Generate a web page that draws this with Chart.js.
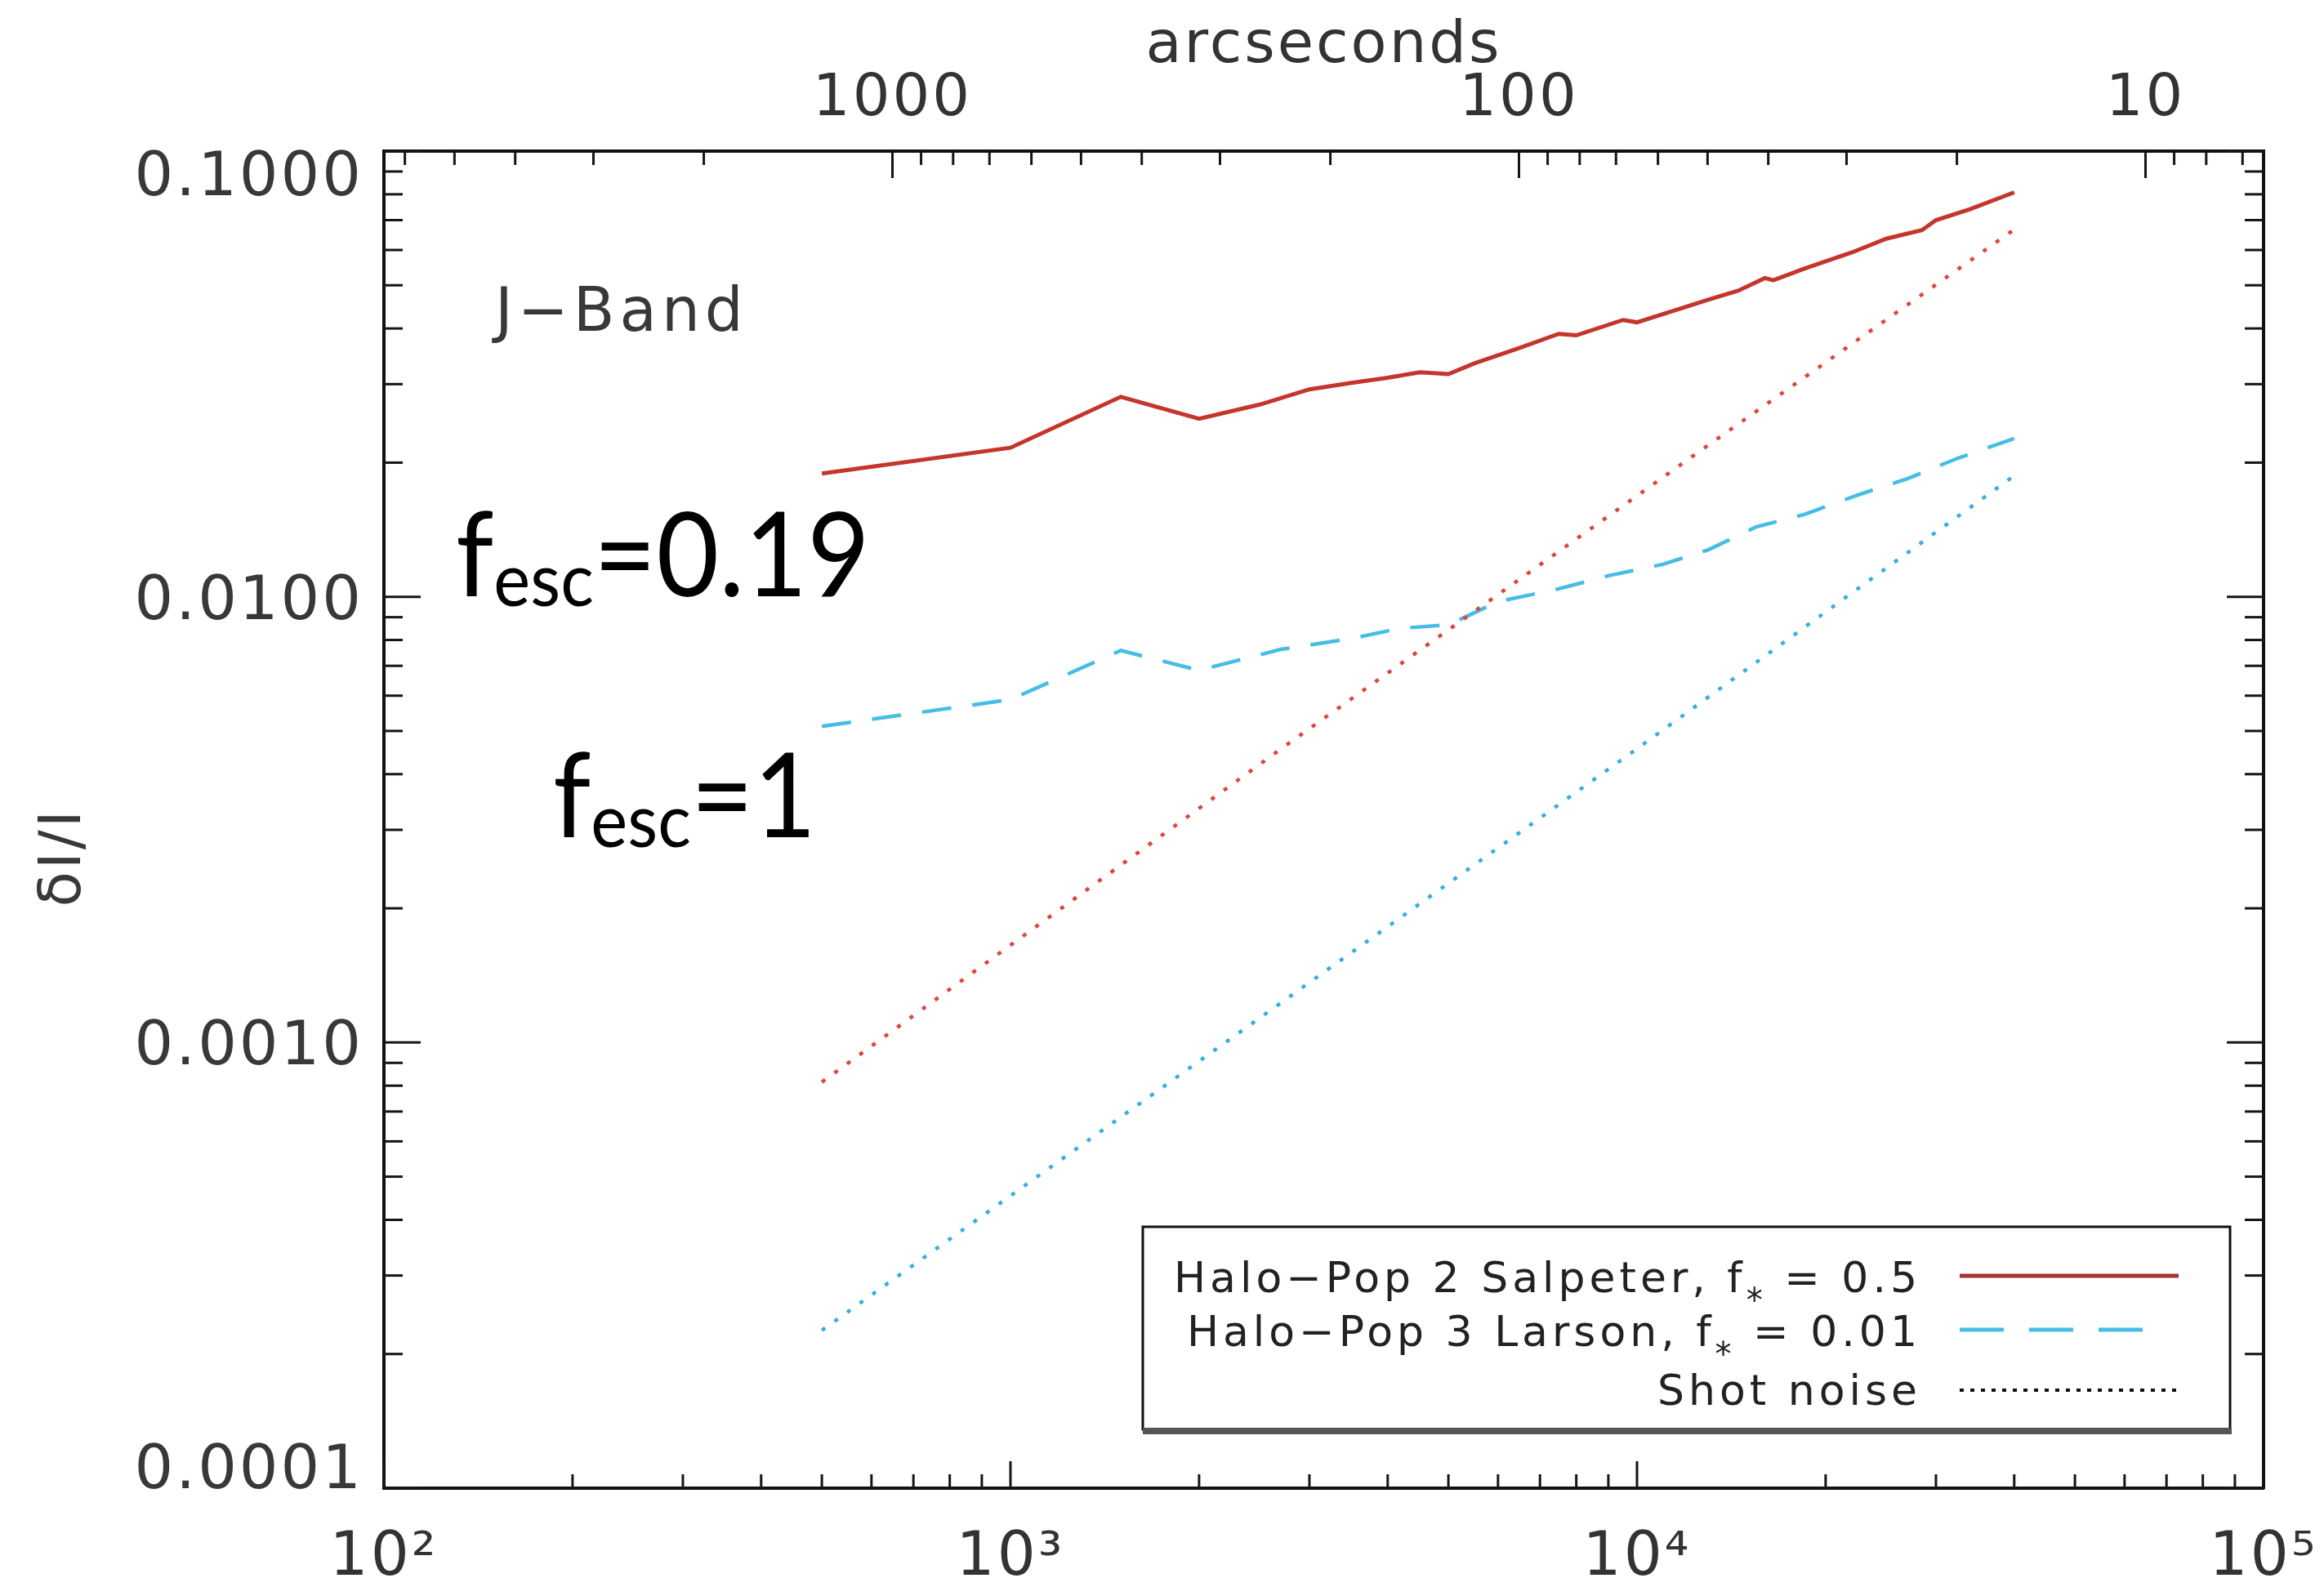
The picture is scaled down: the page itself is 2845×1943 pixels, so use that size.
<!DOCTYPE html>
<html>
<head>
<meta charset="utf-8">
<script src="https://cdn.jsdelivr.net/npm/chart.js@4/dist/chart.umd.min.js"></script>
<style>
html,body{margin:0;padding:0;background:#fff;}
#wrap{width:2845px;height:1943px;position:relative;}
canvas{display:block;}
</style>
</head>
<body>
<div id="wrap"><canvas id="c" width="2845" height="1943"></canvas></div>
<script>
// ---------------- data ----------------
const pop2Ell = [500, 1000, 1500, 2000, 2500, 3000, 3500, 4000, 4500, 5000, 5500, 6500, 7500, 8000, 9500, 10000, 12000, 13000, 14500, 16000, 16500, 18500, 22000, 25000, 28500, 30000, 34000, 40000];
const pop2Val = [0.0189, 0.0216, 0.0281, 0.0251, 0.0270, 0.0292, 0.0302, 0.0310, 0.0319, 0.0316, 0.0334, 0.0362, 0.0389, 0.0386, 0.0418, 0.0413, 0.0448, 0.0464, 0.0486, 0.0519, 0.0513, 0.0545, 0.0592, 0.0636, 0.0665, 0.0700, 0.0741, 0.0808];

const pop3Ell = [500, 1000, 1500, 2000, 2700, 3500, 4200, 5000, 6000, 7500, 9000, 11000, 13000, 15500, 18500, 22500, 27000, 32500, 40000];
const pop3Val = [0.00512, 0.00588, 0.00758, 0.00684, 0.00762, 0.00806, 0.00850, 0.00865, 0.00975, 0.01042, 0.01115, 0.01183, 0.01275, 0.01435, 0.01530, 0.01692, 0.01840, 0.02046, 0.02265];

const shotEll2 = [500, 2680, 13000, 40000];
const shotPop2 = [0.000815, 0.00452, 0.0219, 0.0667];
const shotEll3 = [500, 10000, 21600, 40000];
const shotPop3 = [0.000226, 0.00456, 0.0100, 0.0187];

// tick labels
const xTickValues = [100, 1000, 10000, 100000];
const xTickLabels = ['10\u00B2', '10\u00B3', '10\u2074', '10\u2075'];
const yTickValues = [0.1, 0.01, 0.001, 0.0001];
const yTickLabels = ['0.1000', '0.0100', '0.0010', '0.0001'];
const arcsecMajor = [1000, 100, 10];
const arcsecMinor = [6000, 5000, 4000, 3000, 2000, 900, 800, 700, 600, 500, 400, 300, 200, 90, 80, 70, 60, 50, 40, 30, 20, 9, 8, 7];
const ARCSEC_PI = 648000; // theta[arcsec] = 180*3600 / ell

// text
const seriesLabels = ['Halo\u2212Pop 2 Salpeter, f* = 0.5', 'Halo\u2212Pop 3 Larson, f* = 0.01', 'Shot noise', 'Shot noise'];
const legendParts = [
  ['Halo\u2212Pop 2 Salpeter, f', '*', ' = 0.5'],
  ['Halo\u2212Pop 3 Larson, f', '*', ' = 0.01'],
  ['Shot noise']
];
const bandLabel = 'J\u2212Band';
const yTitle = '\u03B4I/I';
const topTitle = 'arcseconds';
const annot1 = ['f', 'esc', '=0.19'];
const annot2 = ['f', 'esc', '=1'];

// ---------------- helpers ----------------
const pts = (xs, ys) => xs.map((x, i) => ({x: x, y: ys[i]}));
function decadeSteps(min, max) {
  const out = [];
  for (let e = Math.floor(Math.log10(min)) ; e <= Math.ceil(Math.log10(max)); e++) {
    for (let k = 1; k <= 9; k++) {
      const v = k * Math.pow(10, e);
      if (v >= min * 0.999 && v <= max * 1.001) out.push({value: v, major: k === 1});
    }
  }
  return out;
}
function richWidth(ctx, parts) {
  return parts.reduce((s, p) => { ctx.font = p.font; return s + ctx.measureText(p.t).width; }, 0);
}
function drawRich(ctx, parts, x, y, align, sx) {
  sx = sx || 1;
  const total = richWidth(ctx, parts) * sx;
  ctx.save();
  ctx.translate(align === 'right' ? x - total : x, y);
  ctx.scale(sx, 1);
  let cx = 0;
  parts.forEach(p => {
    ctx.font = p.font;
    ctx.fillText(p.t, cx, p.dy || 0);
    cx += ctx.measureText(p.t).width;
  });
  ctx.restore();
}
const noPad = s => { s.paddingLeft = 0; s.paddingRight = 0; s.paddingTop = 0; s.paddingBottom = 0; };

const decor = {
  id: 'decor',
  beforeDraw(chart) {
    chart.ctx.letterSpacing = '3px';
  },
  afterDraw(chart) {
    const ctx = chart.ctx;
    const a = chart.chartArea;
    const sx = chart.scales.x, st = chart.scales.x2, sy = chart.scales.y;
    ctx.save();
    ctx.strokeStyle = '#151515';
    ctx.lineWidth = 3;
    ctx.lineCap = 'butt';
    ctx.setLineDash([]);
    const line = (x1, y1, x2, y2) => { ctx.beginPath(); ctx.moveTo(x1, y1); ctx.lineTo(x2, y2); ctx.stroke(); };
    // bottom ticks (inward)
    decadeSteps(sx.min, sx.max).forEach(t => {
      const x = sx.getPixelForValue(t.value);
      line(x, a.bottom, x, a.bottom - (t.major ? 33 : 17));
    });
    // top ticks (arcseconds)
    arcsecMajor.forEach(s => { const x = st.getPixelForValue(ARCSEC_PI / s); line(x, a.top, x, a.top + 33); });
    arcsecMinor.forEach(s => { const x = st.getPixelForValue(ARCSEC_PI / s); line(x, a.top, x, a.top + 17); });
    // left / right ticks
    decadeSteps(sy.min, sy.max).forEach(t => {
      const y = sy.getPixelForValue(t.value);
      const len = t.major ? 45 : 23;
      line(a.left, y, a.left + len, y);
      line(a.right, y, a.right - len, y);
    });

    // y tick labels (kept inside the axis range, IDL style)
    ctx.fillStyle = '#383838';
    ctx.letterSpacing = '3px';
    ctx.font = '75px "DejaVu Sans"';
    ctx.textAlign = 'right';
    ctx.textBaseline = 'alphabetic';
    yTickValues.forEach((v, i) => {
      let yc = sy.getPixelForValue(v);
      yc = Math.min(Math.max(yc, a.top + 27), a.bottom - 27);
      ctx.fillText(yTickLabels[i], 445, yc + 27);
    });

    // y title
    ctx.save();
    ctx.translate(98, 1050);
    ctx.rotate(-Math.PI / 2);
    ctx.textAlign = 'center';
    ctx.font = '71px "DejaVu Sans"';
    ctx.fillText(yTitle, 0, 0);
    ctx.restore();

    // J-Band label
    ctx.textAlign = 'left';
    ctx.letterSpacing = '6px';
    ctx.font = '74px "DejaVu Sans"';
    ctx.fillText(bandLabel, 606, 405);

    // f_esc annotations
    ctx.letterSpacing = '0px';
    ctx.fillStyle = '#000';
    const big = '143px Lato', sub = '92px Lato';
    const p1 = [{t: annot1[0], font: big}, {t: annot1[1], font: sub, dy: 12}, {t: annot1[2], font: big}];
    const p2 = [{t: annot2[0], font: big}, {t: annot2[1], font: sub, dy: 12}, {t: annot2[2], font: big}];
    const squeeze = 507 / richWidth(ctx, p1);
    drawRich(ctx, p1, 558, 730, 'left', squeeze);
    drawRich(ctx, p2, 677, 1025, 'left', squeeze);

    // legend box
    const L = 1399, T = 1502, R = 2730, B = 1750;
    ctx.fillStyle = '#fff';
    ctx.fillRect(L, T, R - L, B - T);
    ctx.strokeStyle = '#111';
    ctx.lineWidth = 3;
    ctx.strokeRect(L, T, R - L, B - T);
    ctx.strokeStyle = '#555';
    ctx.lineWidth = 8;
    line(L, B + 2, R + 2, B + 2);

    ctx.fillStyle = '#222';
    ctx.letterSpacing = '5px';
    const lf = '52px "DejaVu Sans"', sf = '40px "DejaVu Sans"';
    const baselines = [1582, 1648, 1720];
    legendParts.forEach((parts, i) => {
      const rich = parts.map((t, j) => (parts.length > 1 && j === 1) ? {t: t, font: sf, dy: 24} : {t: t, font: lf});
      drawRich(ctx, rich, 2352, baselines[i], 'right');
    });
    // legend samples
    const ds = chart.data.datasets;
    ctx.lineWidth = 5;
    ctx.strokeStyle = '#a8322d'; ctx.setLineDash([]);
    line(2399, 1562, 2667, 1562);
    ctx.strokeStyle = ds[1].borderColor; ctx.setLineDash([54, 31]);
    line(2399, 1628, 2650, 1628);
    ctx.strokeStyle = '#111'; ctx.lineWidth = 4; ctx.setLineDash([5, 8]);
    line(2399, 1702, 2667, 1702);
    ctx.restore();
  }
};

const ctx = document.getElementById('c').getContext('2d');
new Chart(ctx, {
  type: 'line',
  data: {
    datasets: [
      {label: seriesLabels[2], data: pts(shotEll2, shotPop2), borderColor: '#dc463d', borderWidth: 4.5, borderDash: [5, 14], xAxisID: 'x', yAxisID: 'y'},
      {label: seriesLabels[1], data: pts(pop3Ell, pop3Val), borderColor: '#47bde6', borderWidth: 4.5, borderDash: [36, 26], xAxisID: 'x', yAxisID: 'y'},
      {label: seriesLabels[3], data: pts(shotEll3, shotPop3), borderColor: '#3aaee0', borderWidth: 4.5, borderDash: [5, 14], xAxisID: 'x', yAxisID: 'y'},
      {label: seriesLabels[0], data: pts(pop2Ell, pop2Val), borderColor: '#c4352b', borderWidth: 5, xAxisID: 'x', yAxisID: 'y'}
    ]
  },
  options: {
    responsive: false,
    maintainAspectRatio: false,
    devicePixelRatio: 1,
    animation: false,
    layout: {padding: 0, autoPadding: false},
    elements: {point: {radius: 0, hoverRadius: 0}, line: {tension: 0, fill: false}},
    plugins: {legend: {display: false}, tooltip: {enabled: false}},
    scales: {
      x: {
        type: 'logarithmic', position: 'bottom', min: 100, max: 100000,
        afterBuildTicks: s => { s.ticks = xTickValues.map(v => ({value: v})); },
        afterFit: s => { s.height = 121; noPad(s); },
        ticks: {callback: (v, i) => xTickLabels[i], font: {family: 'DejaVu Sans', size: 74}, color: '#333', padding: 42, maxRotation: 0, autoSkip: false},
        grid: {display: false, drawTicks: false},
        border: {display: true, color: '#111', width: 4}
      },
      x2: {
        type: 'logarithmic', position: 'top', min: 100, max: 100000,
        afterBuildTicks: s => { s.ticks = arcsecMajor.map(a => ({value: ARCSEC_PI / a})); },
        afterFit: s => { s.height = 185; noPad(s); },
        ticks: {callback: (v, i) => String(arcsecMajor[i]), font: {family: 'DejaVu Sans', size: 72}, color: '#333', padding: 20, maxRotation: 0, autoSkip: false},
        title: {display: true, text: topTitle, font: {family: 'DejaVu Sans', size: 72}, color: '#333', padding: {top: 14, bottom: 0}},
        grid: {display: false, drawTicks: false},
        border: {display: true, color: '#111', width: 4}
      },
      y: {
        type: 'logarithmic', position: 'left', min: 0.0001, max: 0.1,
        afterBuildTicks: s => { s.ticks = yTickValues.map(v => ({value: v})); },
        afterFit: s => { s.width = 470; noPad(s); },
        ticks: {display: false},
        grid: {display: false, drawTicks: false},
        border: {display: true, color: '#111', width: 4}
      },
      y2: {
        type: 'logarithmic', position: 'right', min: 0.0001, max: 0.1,
        afterBuildTicks: s => { s.ticks = yTickValues.map(v => ({value: v})); },
        afterFit: s => { s.width = 74; noPad(s); },
        ticks: {display: false},
        grid: {display: false, drawTicks: false},
        border: {display: true, color: '#111', width: 4}
      }
    }
  },
  plugins: [decor]
});
</script>
</body>
</html>
